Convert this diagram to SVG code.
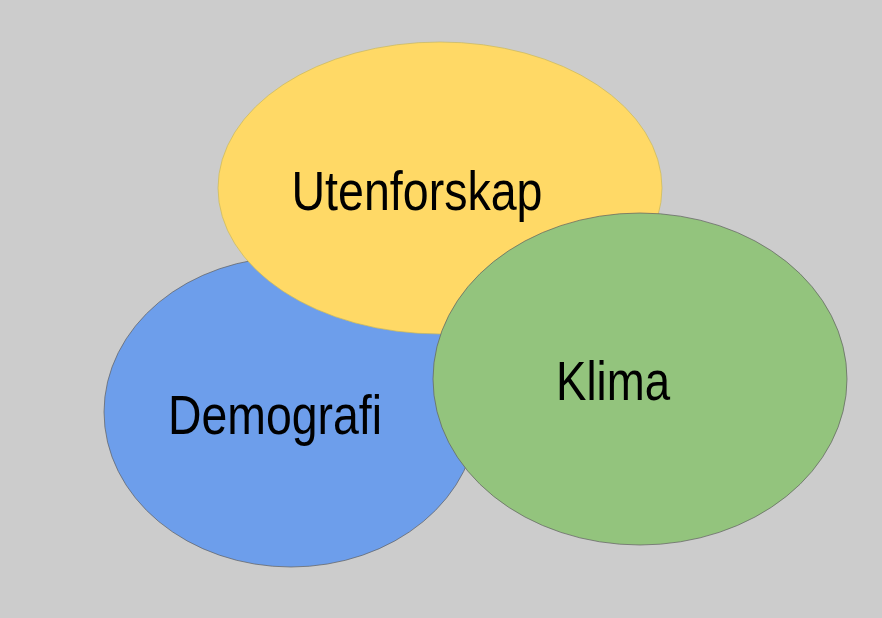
<svg xmlns="http://www.w3.org/2000/svg" width="882" height="618" viewBox="0 0 882 618">
<style>
.c{stroke:#5f5f5f;stroke-width:1;stroke-opacity:0.7}
.t{font-family:"Liberation Sans",Arial,sans-serif;font-size:55px;fill:#000;text-anchor:middle}
</style>
<rect x="0" y="0" width="882" height="618" fill="#cccccc"/>
<g id="demografi">
<ellipse class="c" cx="291" cy="412" rx="187" ry="155" fill="#6d9eeb"/>
<text class="t" x="275" y="434" textLength="214" lengthAdjust="spacingAndGlyphs">Demografi</text>
</g>
<g id="utenforskap">
<ellipse class="c" cx="440" cy="188" rx="222" ry="146" fill="#ffd966" style="stroke:#c8b860"/>
<text class="t" x="417" y="210" textLength="251" lengthAdjust="spacingAndGlyphs">Utenforskap</text>
</g>
<g id="klima">
<ellipse class="c" cx="640" cy="379" rx="207" ry="166" fill="#93c47d"/>
<text class="t" x="613" y="400" textLength="114" lengthAdjust="spacingAndGlyphs">Klima</text>
</g>
<g id="connectors"/>
</svg>
